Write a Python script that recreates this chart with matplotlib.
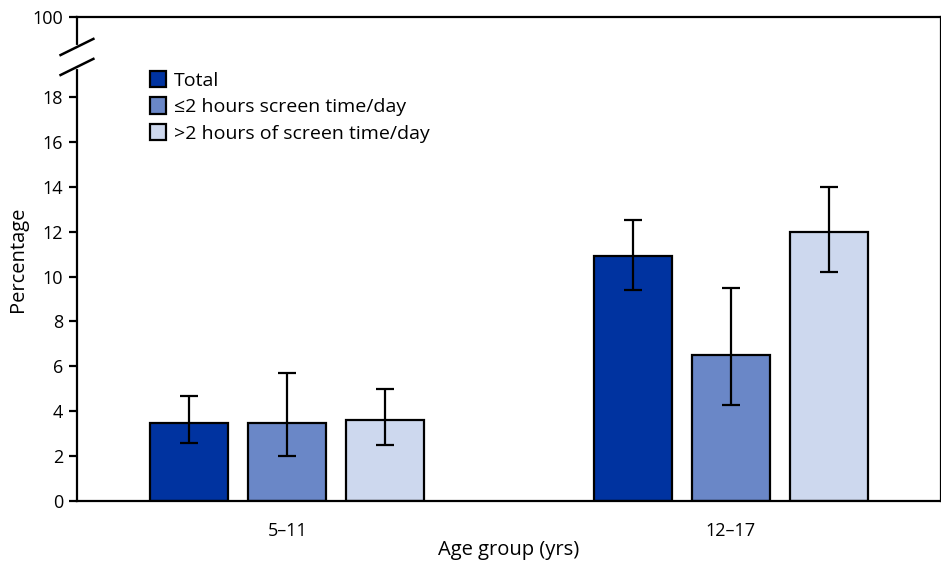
import matplotlib
matplotlib.use("Agg")
import matplotlib.pyplot as plt
import numpy as np

plt.rcParams['font.family'] = ['Open Sans', 'DejaVu Sans']

groups = ["5\u201311", "12\u201317"]
series = ["Total", "\u22642 hours screen time/day", ">2 hours of screen time/day"]
values = {
    "Total": [3.5, 10.9],
    "\u22642 hours screen time/day": [3.5, 6.5],
    ">2 hours of screen time/day": [3.6, 12.0],
}
lower = {
    "Total": [2.6, 9.4],
    "\u22642 hours screen time/day": [2.0, 4.3],
    ">2 hours of screen time/day": [2.5, 10.2],
}
upper = {
    "Total": [4.7, 12.5],
    "\u22642 hours screen time/day": [5.7, 9.5],
    ">2 hours of screen time/day": [5.0, 14.0],
}
colors = ["#0033A0", "#6A87C7", "#CDD8EE"]
yticks = [0, 2, 4, 6, 8, 10, 12, 14, 16, 18]
top_label = "100"

fig = plt.figure(figsize=(9.41, 5.63), dpi=100)
ax = fig.add_axes([0.0818, 0.110, 0.9182, 0.860])

x = np.arange(len(groups))
width = 0.176
step = 0.221
for i, s in enumerate(series):
    v = np.array(values[s])
    lo = v - np.array(lower[s])
    hi = np.array(upper[s]) - v
    ax.bar(x + (i - 1) * step, v, width, color=colors[i], edgecolor="black",
           linewidth=1.6, label=s, zorder=2)
    ax.errorbar(x + (i - 1) * step, v, yerr=[lo, hi], fmt="none", ecolor="black",
                elinewidth=1.6, capsize=6.5, capthick=1.6, zorder=3)

ytop = 21.57
ax.set_ylim(0, ytop)
ax.set_xlim(-0.474, 1.474)
ax.set_yticks(yticks + [ytop])
ax.set_yticklabels([str(t) for t in yticks] + [top_label], fontsize=13)
ax.set_xticks(x)
ax.set_xticklabels(groups, fontsize=13)
ax.tick_params(axis="x", length=0, pad=15)
ax.tick_params(axis="y", length=6, width=1.6, pad=4)
for sp in ax.spines.values():
    sp.set_linewidth(1.6)
ax.spines["right"].set_visible(False)
ax.plot([1, 1], [0, 1], transform=ax.transAxes, color="black", lw=1.6, clip_on=False)

ax.set_ylabel("Percentage", fontsize=14.5, labelpad=3)
ax.set_xlabel("Age group (yrs)", fontsize=14.5, labelpad=0)

# axis break
b1, b2 = 20.23, 19.34
ax.plot([0, 0], [b2, b1], transform=ax.get_yaxis_transform(), color="white",
        lw=3, clip_on=False, zorder=5)
trans = ax.get_yaxis_transform()
for b in (b1, b2):
    ax.plot([-0.019, 0.019], [b - 0.36, b + 0.36], transform=trans, color="black",
            lw=1.8, clip_on=False, zorder=6)

leg = ax.legend(loc="upper left", bbox_to_anchor=(0.075, 0.905), frameon=False,
                fontsize=14, handlelength=0.85, handleheight=0.95, handletextpad=0.4,
                labelspacing=0.38, borderaxespad=0)

fig.savefig("out.png", dpi=100)
